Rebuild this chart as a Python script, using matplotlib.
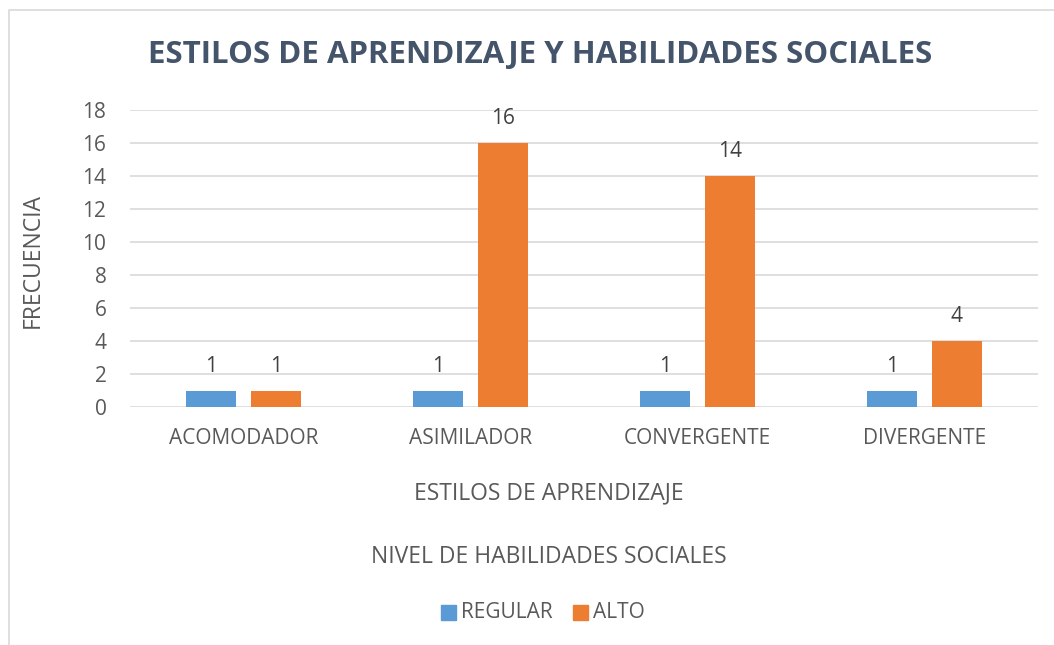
import numpy as np
import matplotlib.pyplot as plt
from matplotlib.patches import Rectangle
from matplotlib.lines import Line2D

categorias = ['ACOMODADOR', 'ASIMILADOR', 'CONVERGENTE', 'DIVERGENTE']
regular = [1, 1, 1, 1]
alto = [1, 16, 14, 4]
series = ['REGULAR', 'ALTO']
colores = ['#5B9BD5', '#ED7D31']

plt.rcParams['font.family'] = ['Open Sans', 'DejaVu Sans']
texto = '#595959'

fig = plt.figure(figsize=(10.54, 6.45), dpi=100)
ax = fig.add_axes([130 / 1054, 1 - 407 / 645, 908 / 1054, 297 / 645])

x = np.arange(len(categorias))
ancho = 0.22
desp = 0.143
b1 = ax.bar(x - desp, regular, ancho, color=colores[0], zorder=3)
b2 = ax.bar(x + desp, alto, ancho, color=colores[1], zorder=3)

for barras in (b1, b2):
    for b in barras:
        ax.annotate(f'{int(b.get_height())}', (b.get_x() + b.get_width() / 2, b.get_height()),
                    xytext=(0, 10), textcoords='offset points', ha='center', va='bottom',
                    fontsize=15, color='#404040')

ax.set_xlim(-0.5, len(categorias) - 0.5)
ax.set_ylim(0, 18)
ax.set_yticks(range(0, 19, 2))
ax.set_xticks(x)
ax.set_xticklabels(categorias)
ax.tick_params(axis='both', length=0, labelsize=15, labelcolor=texto)
ax.tick_params(axis='y', pad=17)
ax.tick_params(axis='x', pad=15)
ax.grid(axis='y', color='#D9D9D9', linewidth=1.2, zorder=0)
for s in ax.spines.values():
    s.set_visible(False)

fig.text(33 / 1054, 1 - 260 / 645, 'FRECUENCIA', rotation=90, ha='center', va='center',
         fontsize=16.5, color=texto)
fig.text(540 / 1054, 1 - 55 / 645, 'ESTILOS DE APRENDIZAJE Y HABILIDADES SOCIALES',
         ha='center', va='center', fontsize=22.5, fontweight='bold', color='#44546A')
fig.text(549 / 1054, 1 - 493 / 645, 'ESTILOS DE APRENDIZAJE', ha='center', va='center',
         fontsize=16.5, color=texto)
fig.text(549 / 1054, 1 - 557 / 645, 'NIVEL DE HABILIDADES SOCIALES', ha='center', va='center',
         fontsize=16.5, color=texto)

# leyenda
leg_x = [441, 573]
for i, nombre in enumerate(series):
    fig.patches.append(Rectangle((leg_x[i] / 1054, 1 - 620 / 645), 15 / 1054, 15 / 645,
                                 transform=fig.transFigure, color=colores[i]))
    fig.text((leg_x[i] + 20) / 1054, 1 - 613 / 645, nombre, ha='left', va='center',
             fontsize=15, color=texto)

# borde del gráfico
fig.lines.append(Line2D([9 / 1054, 9 / 1054, 1], [0, 1 - 10 / 645, 1 - 10 / 645],
                        transform=fig.transFigure, color='#D9D9D9', linewidth=1.2))

fig.savefig('out.png', dpi=100)
